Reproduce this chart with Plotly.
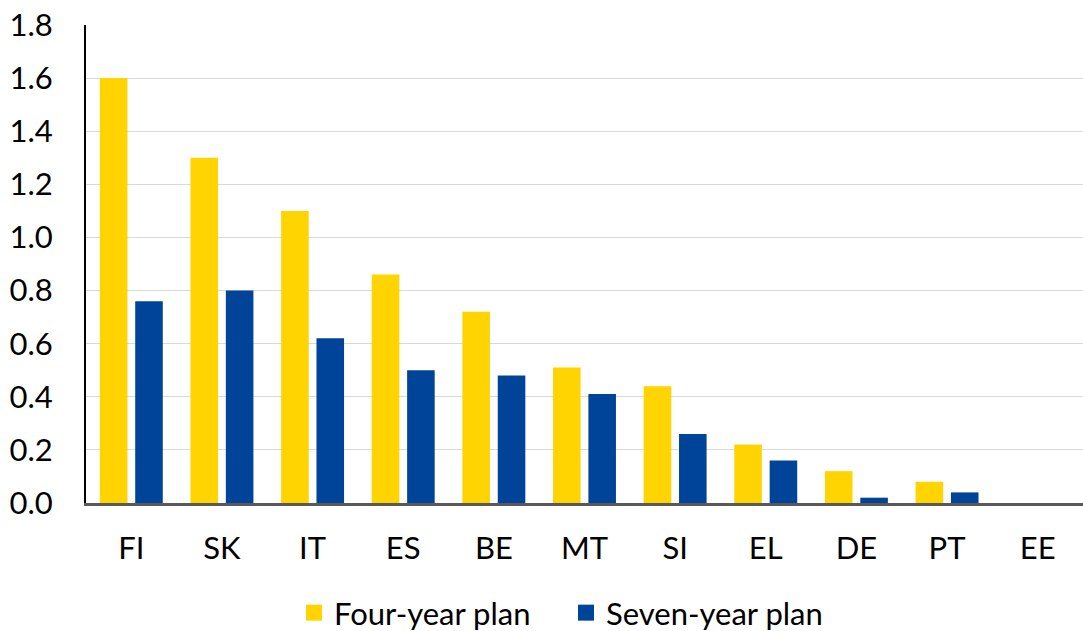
import plotly.graph_objects as go

countries = ["FI", "SK", "IT", "ES", "BE", "MT", "SI", "EL", "DE", "PT", "EE"]
four_year = [1.60, 1.30, 1.10, 0.86, 0.72, 0.51, 0.44, 0.22, 0.12, 0.08, 0.0]
seven_year = [0.76, 0.80, 0.62, 0.50, 0.48, 0.41, 0.26, 0.16, 0.02, 0.04, 0.0]
y_ticks = [0.0, 0.2, 0.4, 0.6, 0.8, 1.0, 1.2, 1.4, 1.6, 1.8]
series_names = ["Four-year plan", "Seven-year plan"]

YELLOW = "#FFD400"
BLUE = "#00449A"
FONT = "Lato, Carlito, Calibri, sans-serif"
FS = 31

fig = go.Figure()
for name, vals, col in zip(series_names, [four_year, seven_year], [YELLOW, BLUE]):
    fig.add_trace(go.Bar(x=countries, y=vals, name=name, showlegend=False,
                         legendgroup=name, marker=dict(color=col, line=dict(width=0))))
# legend entries with larger square swatches
for name, col in zip(series_names, [YELLOW, BLUE]):
    fig.add_trace(go.Scatter(x=[None], y=[None], mode="markers", name=name,
                             legendgroup=name,
                             marker=dict(symbol="square", size=19, color=col)))

fig.update_layout(
    width=1083, height=631,
    margin=dict(l=86, r=0, t=25, b=128, autoexpand=False),
    paper_bgcolor="white", plot_bgcolor="white",
    barmode="group", bargap=0.22, bargroupgap=0.22,
    font=dict(family=FONT, size=FS, color="#000000"),
    showlegend=True,
    legend=dict(orientation="h", x=294 / 1083, xanchor="left", xref="container",
                y=(631 - 613) / 631, yanchor="middle", yref="container",
                font=dict(size=FS), traceorder="normal", itemwidth=30,
                entrywidth=227, entrywidthmode="pixels", tracegroupgap=0),
)
fig.update_xaxes(
    showgrid=False, showline=True, linecolor="#595959", linewidth=2.5,
    ticks="", ticklabelstandoff=16, tickfont=dict(size=FS),
)
fig.update_yaxes(
    range=[0, 1.8], tickvals=y_ticks, ticktext=[f"{v:.1f}" for v in y_ticks],
    showgrid=True, gridcolor="#D9D9D9", gridwidth=1,
    showline=True, linecolor="#000000", linewidth=2,
    zeroline=False, ticks="", ticklabelstandoff=25, tickfont=dict(size=FS),
)

fig.write_html("out.html")
